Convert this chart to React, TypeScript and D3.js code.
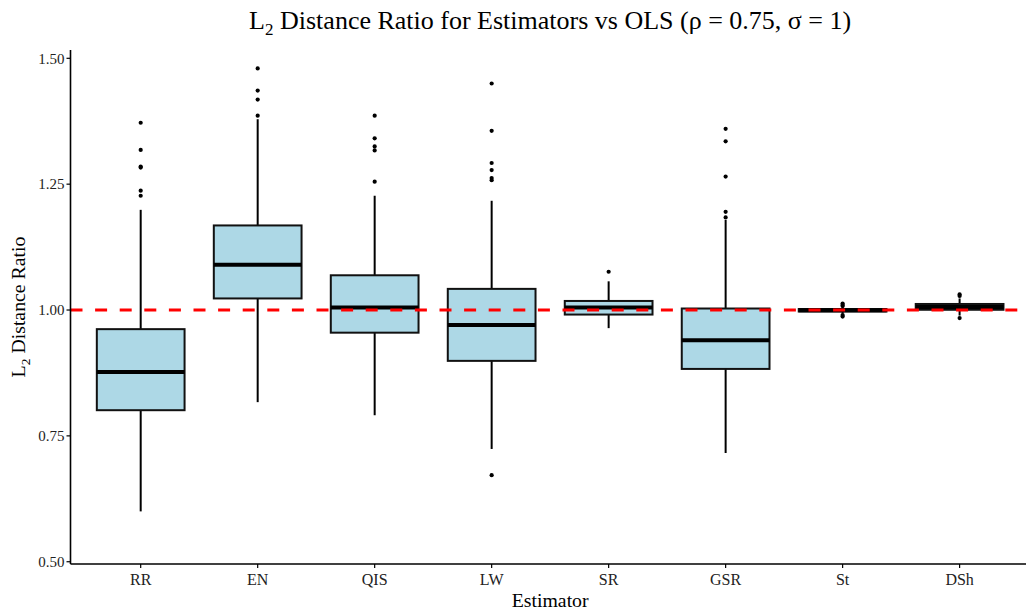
import React from 'react';
import * as d3 from 'd3';

// estimator names, in x order
const estimators = ['RR', 'EN', 'QIS', 'LW', 'SR', 'GSR', 'St', 'DSh'];

// box summaries
const lowerWhisker = [0.600, 0.817, 0.791, 0.724, 0.964, 0.716, 0.993, 0.989];
const q1 = [0.801, 1.023, 0.955, 0.899, 0.991, 0.883, 0.997, 1.0005];
const median = [0.877, 1.090, 1.005, 0.970, 1.005, 0.940, 0.9995, 1.006];
const q3 = [0.962, 1.168, 1.069, 1.042, 1.018, 1.003, 1.002, 1.012];
const upperWhisker = [1.199, 1.379, 1.227, 1.217, 1.057, 1.179, 1.006, 1.023];

// outlying points per estimator
const outliers = [
  [1.372, 1.318, 1.285, 1.283, 1.237, 1.227],
  [1.480, 1.436, 1.418, 1.386],
  [1.386, 1.341, 1.325, 1.317, 1.255],
  [1.450, 1.356, 1.292, 1.278, 1.262, 1.258, 0.672],
  [1.076],
  [1.360, 1.335, 1.265, 1.195, 1.184],
  [1.013, 1.010, 1.008, 0.990, 0.987],
  [1.028, 1.031, 0.984],
];

const yTicks = [0.5, 0.75, 1.0, 1.25, 1.5];
const referenceLine = 1.0;

const font = '"Liberation Serif", "Times New Roman", serif';

const App = () => {
  const width = 1026;
  const height = 611;
  const left = 70.5;
  const right = 1029.8;
  const top = 50;
  const bottom = 564;

  // x: discrete positions with ggplot-like 0.6 expansion
  const x = d3.scalePoint<string>()
    .domain(estimators)
    .range([left, right])
    .padding(0.6);
  const step = x.step();
  const boxW = step * 0.75;

  // y: linear value scale
  const y = d3.scaleLinear()
    .domain([0.4955, 1.5165])
    .range([bottom, top]);

  return (
    <svg width={width} height={height} style={{ position: 'absolute', left: 0, top: 0 }}
      fontFamily={font}>
      <rect width={width} height={height} fill="white" />

      {/* title */}
      <text x={(left + right) / 2} y={29} textAnchor="middle" fontSize={26} fill="black">
        L<tspan fontSize={17} dy={6}>2</tspan><tspan dy={-6}> Distance Ratio for Estimators vs OLS (ρ = 0.75, σ = 1)</tspan>
      </text>

      {/* boxes */}
      {estimators.map((e, i) => {
        const cx = x(e)!;
        return (
          <g key={e}>
            <line x1={cx} x2={cx} y1={y(q3[i])} y2={y(upperWhisker[i])} stroke="black" strokeWidth={2} />
            <line x1={cx} x2={cx} y1={y(q1[i])} y2={y(lowerWhisker[i])} stroke="black" strokeWidth={2} />
            <rect x={cx - boxW / 2} y={y(q3[i])} width={boxW} height={y(q1[i]) - y(q3[i])}
              fill="#ADD8E6" stroke="#111" strokeWidth={2} />
            <line x1={cx - boxW / 2} x2={cx + boxW / 2} y1={y(median[i])} y2={y(median[i])}
              stroke="black" strokeWidth={4} />
            {outliers[i].map((v, j) => (
              <circle key={j} cx={cx} cy={y(v)} r={2.1} fill="black" />
            ))}
          </g>
        );
      })}

      {/* reference line at 1 */}
      <line x1={left} x2={right} y1={y(referenceLine)} y2={y(referenceLine)}
        stroke="red" strokeWidth={3} strokeDasharray="12 12.6" />

      {/* y axis */}
      <line x1={left} x2={left} y1={top} y2={bottom} stroke="black" strokeWidth={1.6} />
      {yTicks.map(t => (
        <g key={t}>
          <line x1={left - 4} x2={left} y1={y(t)} y2={y(t)} stroke="black" strokeWidth={1.2} />
          <text x={left - 6} y={y(t)} dy="0.35em" textAnchor="end" fontSize={15} fill="#222">
            {d3.format('.2f')(t)}
          </text>
        </g>
      ))}

      {/* x axis */}
      <line x1={left} x2={right} y1={bottom} y2={bottom} stroke="black" strokeWidth={1.6} />
      {estimators.map(e => (
        <g key={e}>
          <line x1={x(e)!} x2={x(e)!} y1={bottom} y2={bottom + 4} stroke="black" strokeWidth={1.2} />
          <text x={x(e)!} y={bottom + 21} textAnchor="middle" fontSize={16} fill="#222">{e}</text>
        </g>
      ))}

      {/* axis titles */}
      <text x={(left + right) / 2} y={607} textAnchor="middle" fontSize={19.8} fill="black">Estimator</text>
      <text transform={`translate(25,${(top + bottom) / 2}) rotate(-90)`} textAnchor="middle"
        fontSize={19.8} fill="black">
        L<tspan fontSize={13.5} dy={4.5}>2</tspan><tspan dy={-4.5}> Distance Ratio</tspan>
      </text>
    </svg>
  );
};

export default App;
